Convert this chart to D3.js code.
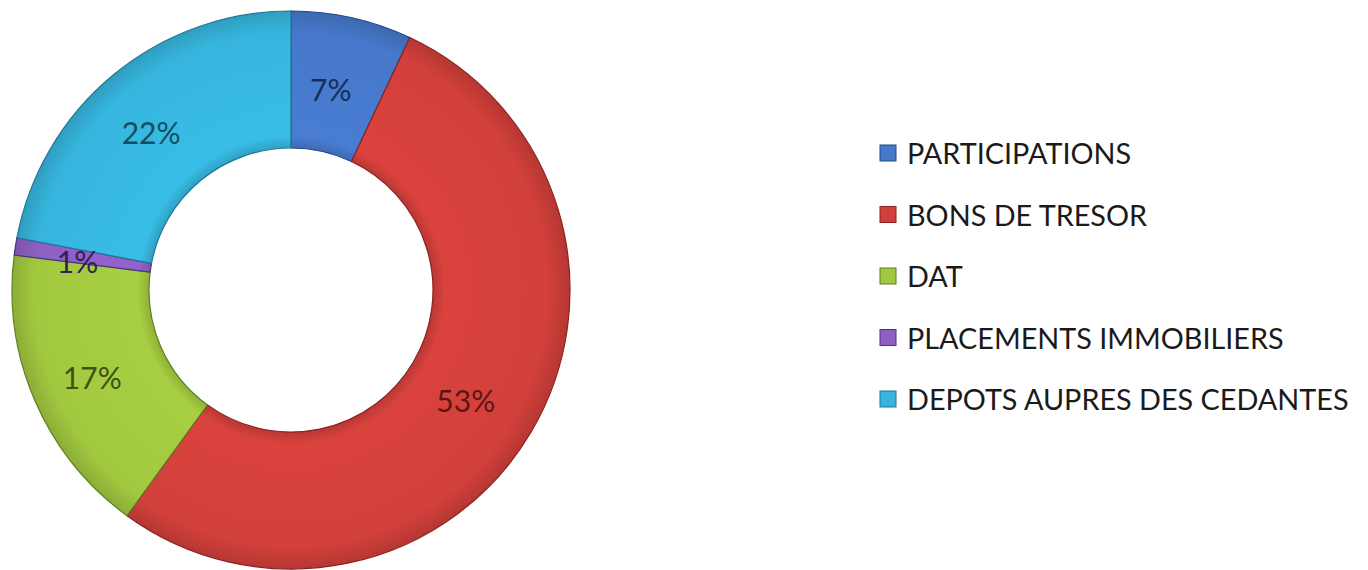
<!DOCTYPE html>
<html><head><meta charset="utf-8">
<script src="https://cdn.jsdelivr.net/npm/d3@7"></script>
<style>html,body{margin:0;padding:0;background:#fff;}</style>
</head><body>
<svg id="c" width="1368" height="570"></svg>
<script>
const categories = ["PARTICIPATIONS","BONS DE TRESOR","DAT","PLACEMENTS IMMOBILIERS","DEPOTS AUPRES DES CEDANTES"];
const values = [7,53,17,1,22];
const labels = ["7%","53%","17%","1%","22%"];
const colors = ["#4679cb","#d2403b","#a2c840","#8e60c4","#36b6de"];
const strokes = ["#1f4a8a","#8a2320","#5f7e1e","#4e2f80","#1f7696"];

const svg = d3.select("#c");
const cx = 291, cy = 290, R = 279, r = 142;
const pie = d3.pie().sort(null).value(d => d)(values);
const arc = d3.arc().innerRadius(r).outerRadius(R);
const labArc = d3.arc().innerRadius(205).outerRadius(215);
const defs = svg.append("defs");
colors.forEach((c,i)=>{
  const g = defs.append("radialGradient").attr("id","g"+i).attr("gradientUnits","userSpaceOnUse")
    .attr("cx",0).attr("cy",0).attr("r",R);
  g.append("stop").attr("offset", r/R).attr("stop-color", d3.color(c).darker(0.35));
  g.append("stop").attr("offset", (r+12)/R).attr("stop-color", d3.color(c).brighter(0.1));
  g.append("stop").attr("offset", 0.92).attr("stop-color", c);
  g.append("stop").attr("offset", 1).attr("stop-color", d3.color(c).darker(0.4));
});
const g = svg.append("g").attr("transform",`translate(${cx},${cy})`);
g.selectAll("path").data(pie).join("path")
  .attr("d", arc).attr("fill",(d,i)=>`url(#g${i})`)
  .attr("stroke",(d,i)=>strokes[i]).attr("stroke-width",1.2);
g.selectAll("text").data(pie).join("text")
  .attr("transform", d => { const p = labArc.centroid(d); return `translate(${p[0]-6},${p[1]+8})`; })
  .attr("text-anchor","middle").attr("dominant-baseline","middle")
  .attr("font-family","Lato, 'Open Sans', sans-serif").attr("font-size",30)
  .attr("fill",(d,i)=>d3.color(strokes[i]).darker(1.2))
  .text((d,i)=>labels[i]);

const y = d3.scalePoint().domain(categories).range([153,399]);
const lg = svg.append("g");
const items = lg.selectAll("g").data(categories).join("g")
  .attr("transform", d => `translate(880,${y(d)})`);
items.append("rect").attr("x",0).attr("y",-8).attr("width",16).attr("height",16)
  .attr("fill",(d,i)=>colors[i]).attr("stroke",(d,i)=>strokes[i]).attr("stroke-width",1);
items.append("text").attr("x",27).attr("y",0).attr("dominant-baseline","central")
  .attr("font-family","Lato, 'Open Sans', sans-serif").attr("font-size",28.8).attr("fill","#1a1a1a")
  .text(d=>d);
</script>
</body></html>
